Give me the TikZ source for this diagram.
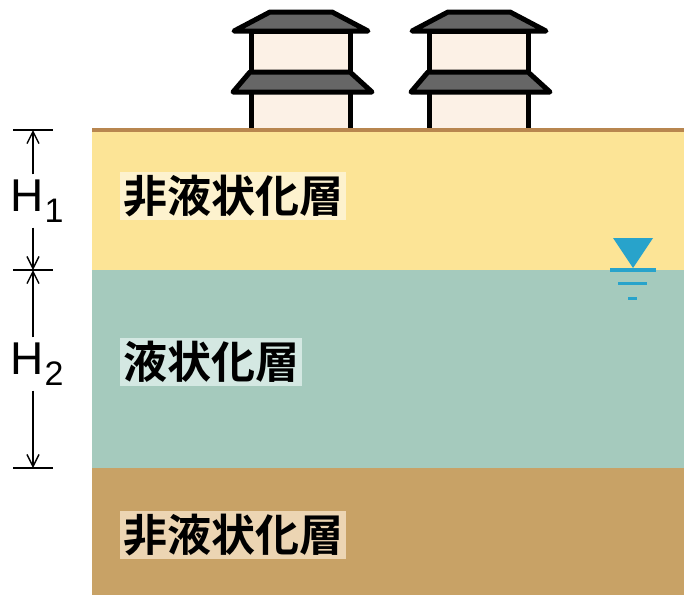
\documentclass[tikz,border=0pt]{standalone}
\usepackage{fontspec}
\setsansfont{Liberation Sans}
\newfontfamily\cjk{Noto Sans CJK JP}[BoldFont=Noto Sans CJK JP Bold]
\usetikzlibrary{arrows.meta}

\definecolor{sandtop}{HTML}{FCE496}
\definecolor{sandbox}{HTML}{FDF2CE}
\definecolor{wetsoil}{HTML}{A5CABD}
\definecolor{wetbox}{HTML}{D4E8E2}
\definecolor{claysoil}{HTML}{C8A266}
\definecolor{claybox}{HTML}{ECD5B3}
\definecolor{groundline}{HTML}{B8864F}
\definecolor{roofgray}{HTML}{666666}
\definecolor{wallcream}{HTML}{FCF1E6}
\definecolor{waterblue}{HTML}{28A3CB}

\begin{document}
\begin{tikzpicture}[
    x=1pt,
    y=-1pt,
    layertext/.style={anchor=west, inner sep=3pt,
        font=\cjk\bfseries\fontsize{44}{44}\selectfont},
    dimtext/.style={inner sep=5pt, font=\sffamily\fontsize{46}{46}\selectfont},
    dim/.style={line width=1.4pt},
    dimarrow/.style={dim, -{Straight Barb[length=12pt,width=12pt]}},
    house/.style={line width=5pt, line join=round}
]

\useasboundingbox (0,0) rectangle (684,595);

% ---------------------------------------------------------
% Soil layers
% ---------------------------------------------------------

\fill[sandtop]  (92,130) rectangle (684,270);
\fill[wetsoil]  (92,270) rectangle (684,468);
\fill[claysoil] (92,468) rectangle (684,595);

% Ground surface
\draw[groundline, line width=3.5pt] (92,130) -- (684,130);

% Layer names
\node[layertext, fill=sandbox] (upper) at (120,196) {非液状化層};
\node[layertext, fill=wetbox]  (middle) at (120,362) {液状化層};
\node[layertext, fill=claybox] (lower) at (120,535) {非液状化層};

% ---------------------------------------------------------
% Houses
% ---------------------------------------------------------

\foreach \dx in {0,178}{
  \begin{scope}[xshift=\dx]
    % ground floor walls
    \fill[wallcream] (251,92) rectangle (350,128);
    \draw[house] (251,92) -- (251,128);
    \draw[house] (350,92) -- (350,128);
    % upper floor
    \draw[house, fill=wallcream] (251,31) rectangle (350,72);
    % eaves between floors
    \draw[house, fill=roofgray]
        (250,72) -- (350,72) -- (372,92) -- (233,92) -- cycle;
    % top roof
    \draw[house, fill=roofgray]
        (270,12) -- (332,12) -- (368,31) -- (234,31) -- cycle;
  \end{scope}
}

% ---------------------------------------------------------
% Water table
% ---------------------------------------------------------

\fill[waterblue] (613,238) -- (653,238) -- (633,268) -- cycle;
\draw[waterblue, line width=4pt] (610,270) -- (656,270);
\draw[waterblue, line width=3pt] (618,283) -- (647,283);
\draw[waterblue, line width=3pt] (628,298) -- (637,298);

% ---------------------------------------------------------
% Thicknesses H1, H2
% ---------------------------------------------------------

\coordinate (t0) at (33,130);
\coordinate (t1) at (33,270);
\coordinate (t2) at (33,468);

\foreach \tk in {t0,t1,t2}{
  \draw[dim] ([xshift=-20pt]\tk) -- ([xshift=20pt]\tk);
}

\node[dimtext] (h1) at (37,201)
    {H\kern1pt\raisebox{-0.24em}{\fontsize{34}{34}\selectfont 1}};
\node[dimtext] (h2) at (37,364)
    {H\kern1pt\raisebox{-0.24em}{\fontsize{34}{34}\selectfont 2}};

\draw[dimarrow] (h1.north -| t0) -- (t0);
\draw[dimarrow] (h1.south -| t1) -- (t1);
\draw[dimarrow] (h2.north -| t1) -- (t1);
\draw[dimarrow] (h2.south -| t2) -- (t2);

\end{tikzpicture}
\end{document}
